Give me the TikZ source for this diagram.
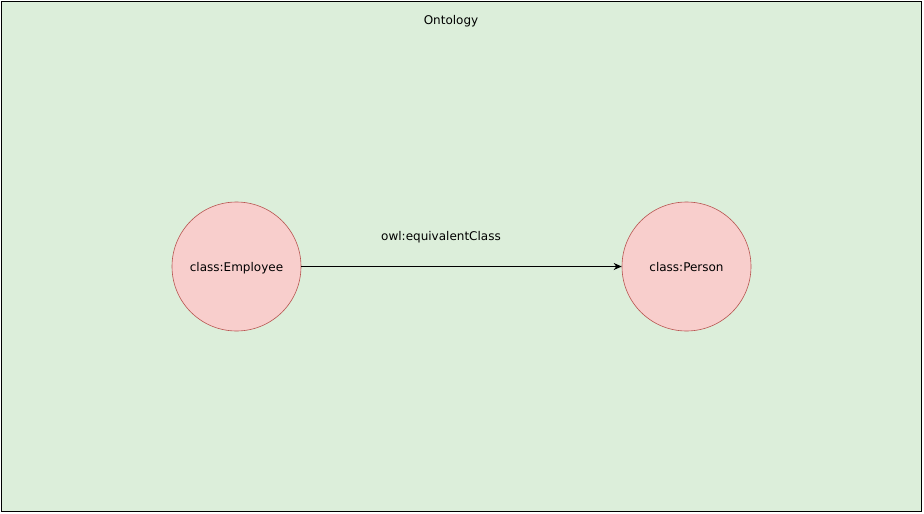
\documentclass[tikz,border=0pt]{standalone}
\usepackage{fontspec}
\setmainfont{DejaVu Sans}
\usetikzlibrary{arrows.meta}
\definecolor{panelgreen}{HTML}{DCEEDA}
\definecolor{classfill}{HTML}{F8CECC}
\definecolor{classline}{HTML}{B85450}
\tikzset{
  classnode/.style={circle, draw=classline, fill=classfill, line width=0.6pt,
    minimum size=129pt, inner sep=0pt, font=\fontsize{12}{14}\selectfont},
  lbl/.style={font=\fontsize{12}{14}\selectfont, inner sep=0pt},
  rel/.style={-{Stealth[length=8pt,width=7pt]}, line width=0.8pt}
}
\begin{document}
\begin{tikzpicture}[x=1pt,y=-1pt]
  \useasboundingbox (0,0) rectangle (924,514);
  % ontology panel
  \node[draw=black, fill=panelgreen, line width=1pt, minimum width=920pt,
        minimum height=510pt, inner sep=0pt, outer sep=0pt, anchor=north west]
        (panel) at (1.5,1.5) {};
  \node[lbl] (title) at (451,21.5) {Ontology};
  % classes
  \node[classnode, text depth=0pt] (emp) at (236.5,266.5) {class:Employee};
  \node[classnode, text depth=0pt] (per) at (686.5,266.5) {class:Person};
  % relation
  \draw[rel] (emp) -- (per);
  \node[lbl] (rellbl) at (441,237.5) {owl:equivalentClass};
\end{tikzpicture}
\end{document}
